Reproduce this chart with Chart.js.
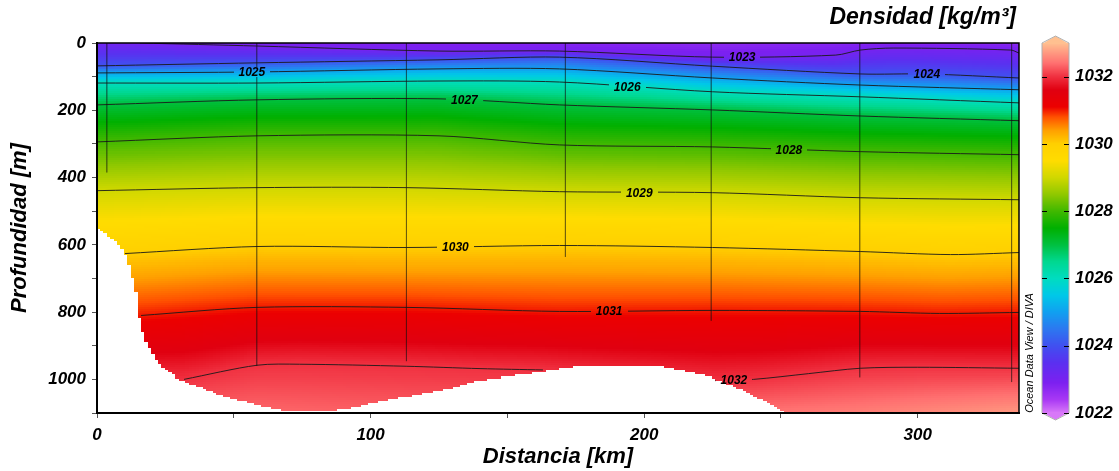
<!DOCTYPE html>
<html>
<head>
<meta charset="utf-8">
<script src="https://cdn.jsdelivr.net/npm/chart.js@4.4.1/dist/chart.umd.min.js"></script>
<style>
  html, body { margin: 0; padding: 0; background: #fff; }
</style>
</head>
<body>
<canvas id="section" width="1119" height="471"></canvas>
<script>
// Estaciones: distancia [km] y profundidad máxima del perfil [m]
const stationKm = [3.6, 58.4, 113.1, 171.2, 224.5, 278.8, 334.3]
const stationDepth = [385, 960, 946, 636, 826, 994, 1008]

// Topografía del fondo
const bottomKm = [0, 4.7, 9.1, 11.3, 13.1, 15.0, 15.7, 17.5, 20.1, 23.7, 30.3, 40.1, 47.4, 55.8, 65.7, 74, 84.3, 93.4, 100.7, 116.8, 129.9, 137.2, 169, 175.2, 205.5, 211.7, 223.7, 235.8, 246.7, 254, 337]
const bottomDepth = [548, 575, 605, 643, 694, 762, 821, 880, 919, 961, 999, 1029, 1050, 1067, 1088, 1094, 1094, 1082, 1067, 1044, 1023, 1005, 969, 961, 961, 969, 990, 1029, 1073, 1110, 1110]

// Densidad en superficie y a 1100 m
const profileKm = [0, 58, 113, 171, 225, 279, 337]
const surfaceDens = [1023.1, 1022.9, 1022.85, 1022.8, 1022.7, 1022.8, 1022.75]
const deepDens = [1032.3, 1032.35, 1032.3, 1032.3, 1032.4, 1032.5, 1032.7]

// Isopicnas: [km, profundidad m]
const iso1023 = [[15.7, 0], [58.5, 9], [125, 24], [169, 24], [225, 42], [270, 36], [279, 21], [291, 15], [334, 21], [337, 30]]
const iso1024 = [[0, 68], [58.5, 59], [125, 50], [169, 42], [225, 69], [279, 92], [303, 92], [337, 104]]
const iso1025 = [[0, 89], [58.5, 86], [125, 77], [169, 77], [225, 104], [279, 125], [337, 139]]
const iso1026 = [[0, 119], [58.5, 119], [125, 113], [169, 116], [225, 145], [279, 160], [337, 178]]
const iso1027 = [[0, 184], [58.5, 169], [125, 166], [169, 184], [225, 199], [279, 217], [337, 231]]
const iso1028 = [[0, 294], [58.5, 276], [125, 276], [169, 303], [225, 309], [279, 323], [337, 332]]
const iso1029 = [[0, 439], [58.5, 430], [113, 430], [169, 442], [225, 445], [279, 460], [337, 466]]
const iso1030 = [[10.2, 626], [58.5, 605], [113, 608], [169, 602], [225, 608], [279, 620], [312, 629], [337, 623]]
const iso1031 = [[16.1, 810], [58.5, 786], [113, 786], [169, 798], [225, 795], [279, 798], [308, 804], [337, 801]]
const iso1032 = [[31.8, 1000], [58.5, 958], [74, 955], [113, 961], [140, 968], [163, 972], [190, null], [226, 1004], [240, 1000], [260, 983], [279, 967], [300, 964], [337, 967]]

const levels = [1023, 1024, 1025, 1026, 1027, 1028, 1029, 1030, 1031, 1032]
const isolines = [iso1023, iso1024, iso1025, iso1026, iso1027, iso1028, iso1029, iso1030, iso1031, iso1032]
const labelKm = [235.8, 303.3, 56.6, 193.8, 134.3, 252.9, 198.2, 131, 187.2, 232.8]

// Escala de colores (ODV)
const cmapStops = [1022, 1022.4, 1022.9, 1023.5, 1024, 1024.5, 1025, 1025.5, 1026, 1026.5, 1027, 1027.5, 1028, 1028.5, 1029, 1029.5, 1030, 1030.4, 1030.8, 1031.1, 1031.6, 1032, 1032.4, 1033]
const cmapColors = ['#d878f8', '#a838f4', '#7c20f0', '#5a30f0', '#4050f0', '#2c78f0', '#10a0f0', '#00c8e8', '#00dcc0', '#00d890', '#00c040', '#00b000', '#40b800', '#90c800', '#d0d800', '#ffdc00', '#ffd000', '#ffa000', '#ff5000', '#ec0000', '#e00010', '#f03040', '#ff7070', '#ffc090']

const FAMILY = "'Liberation Sans', Arial, sans-serif"
const tickFont = { family: FAMILY, size: 17, weight: 'bold', style: 'italic' }
const titleFont = { family: FAMILY, size: 22, weight: 'bold', style: 'italic' }

const rgb = cmapColors.map(h => [1, 3, 5].map(i => parseInt(h.slice(i, i + 2), 16)))

function cmap(v) {
  if (v <= cmapStops[0]) return `rgb(${rgb[0]})`
  for (let i = 1; i < cmapStops.length; i++) {
    if (v <= cmapStops[i]) {
      const t = (v - cmapStops[i - 1]) / (cmapStops[i] - cmapStops[i - 1])
      const c = rgb[i - 1].map((a, k) => Math.round(a + (rgb[i][k] - a) * t))
      return `rgb(${c})`
    }
  }
  return `rgb(${rgb[rgb.length - 1]})`
}

function interp(xs, ys, x) {
  if (x <= xs[0]) return ys[0]
  for (let i = 1; i < xs.length; i++) {
    if (x <= xs[i]) return ys[i - 1] + (ys[i] - ys[i - 1]) * (x - xs[i - 1]) / (xs[i] - xs[i - 1])
  }
  return ys[ys.length - 1]
}

const isoKm = isolines.map(l => l.filter(p => p[1] !== null).map(p => p[0]))
const isoDepth = isolines.map(l => l.filter(p => p[1] !== null).map(p => p[1]))

function densityAt(km, z) {
  const knots = [[0, interp(profileKm, surfaceDens, km)]]
  levels.forEach((lev, i) => {
    const d = interp(isoKm[i], isoDepth[i], km)
    const last = knots[knots.length - 1]
    if (d > last[0] && lev > last[1]) knots.push([d, lev])
  })
  const last = knots[knots.length - 1]
  knots.push([Math.max(1100, last[0] + 1), interp(profileKm, deepDens, km)])
  for (let i = 1; i < knots.length; i++) {
    if (z <= knots[i][0]) {
      const t = (z - knots[i - 1][0]) / (knots[i][0] - knots[i - 1][0])
      return knots[i - 1][1] + (knots[i][1] - knots[i - 1][1]) * t
    }
  }
  return last[1]
}

const xMax = 337, zMax = 1100
const cellKm = 1.25, cellM = 6

const sectionPlugin = {
  id: 'section',
  beforeDatasetsDraw(chart) {
    const { ctx, chartArea: a, scales: { x, y } } = chart
    const off = document.createElement('canvas')
    off.width = chart.width
    off.height = chart.height
    const o = off.getContext('2d')
    o.fillStyle = '#fff'
    o.fillRect(a.left, a.top, a.width, a.height)
    for (let k0 = 0; k0 < xMax; k0 += cellKm) {
      const k1 = Math.min(k0 + cellKm, xMax), kc = (k0 + k1) / 2
      const bot = interp(bottomKm, bottomDepth, kc)
      const px0 = Math.floor(x.getPixelForValue(k0)), px1 = Math.ceil(x.getPixelForValue(k1))
      for (let z0 = 0; z0 < zMax; z0 += cellM) {
        const z1 = Math.min(z0 + cellM, zMax), zc = (z0 + z1) / 2
        if (zc > bot) break
        const py0 = Math.floor(y.getPixelForValue(z0)), py1 = Math.ceil(y.getPixelForValue(z1))
        o.fillStyle = cmap(densityAt(kc, zc))
        o.fillRect(px0, py0, px1 - px0, py1 - py0)
      }
    }
    chart.$heat = off
    ctx.save()
    ctx.beginPath()
    ctx.rect(a.left, a.top, a.width, a.height)
    ctx.clip()
    ctx.drawImage(off, 0, 0)
    ctx.restore()
  },
  afterDatasetsDraw(chart) {
    const { ctx, chartArea: a, scales: { x, y } } = chart
    ctx.save()
    ctx.font = `italic bold 12px ${FAMILY}`
    ctx.textAlign = 'center'
    ctx.textBaseline = 'middle'
    levels.forEach((lev, i) => {
      const km = labelKm[i]
      const px = x.getPixelForValue(km)
      const py = y.getPixelForValue(interp(isoKm[i], isoDepth[i], km))
      const w = ctx.measureText(String(lev)).width + 10, h = 10
      ctx.drawImage(chart.$heat, px - w / 2, py - h / 2, w, h, px - w / 2, py - h / 2, w, h)
      ctx.fillStyle = '#000'
      ctx.fillText(String(lev), px, py + 1)
    })
    ctx.strokeStyle = '#000'
    ctx.lineWidth = 1.5
    ctx.strokeRect(a.left, a.top, a.width, a.height)
    ctx.beginPath()
    ctx.lineWidth = 2
    ctx.moveTo(a.left, a.top)
    ctx.lineTo(a.left, a.bottom)
    ctx.lineTo(a.right, a.bottom)
    ctx.stroke()
    ctx.restore()
  },
  afterDraw(chart) {
    const { ctx, chartArea: a, scales: { y2 } } = chart
    const left = a.right + 23, w = 27
    const top = y2.getPixelForValue(1033), bottom = y2.getPixelForValue(1022)
    ctx.save()
    for (let py = Math.floor(top); py < bottom; py++) {
      ctx.fillStyle = cmap(y2.getValueForPixel(py + 0.5))
      ctx.fillRect(left, py, w, 1)
    }
    // puntas de la barra
    ctx.fillStyle = cmap(1033)
    ctx.beginPath()
    ctx.moveTo(left, top + 1); ctx.lineTo(left + w / 2, top - 7); ctx.lineTo(left + w, top + 1); ctx.closePath()
    ctx.fill()
    ctx.fillStyle = cmap(1022)
    ctx.beginPath()
    ctx.moveTo(left, bottom - 1); ctx.lineTo(left + w / 2, bottom + 7); ctx.lineTo(left + w, bottom - 1); ctx.closePath()
    ctx.fill()
    ctx.strokeStyle = '#b0b0b0'
    ctx.lineWidth = 1
    ctx.beginPath()
    ctx.moveTo(left, top); ctx.lineTo(left + w / 2, top - 7); ctx.lineTo(left + w, top)
    ctx.lineTo(left + w, bottom); ctx.lineTo(left + w / 2, bottom + 7); ctx.lineTo(left, bottom)
    ctx.closePath()
    ctx.stroke()
    ctx.strokeStyle = '#000'
    y2.ticks.forEach(t => {
      const py = Math.round(y2.getPixelForValue(t.value)) + 0.5
      ctx.beginPath()
      ctx.moveTo(left, py); ctx.lineTo(left + 5, py)
      ctx.moveTo(left + w - 5, py); ctx.lineTo(left + w, py)
      ctx.stroke()
    })
    // título
    ctx.fillStyle = '#000'
    ctx.font = `italic bold 23px ${FAMILY}`
    ctx.textAlign = 'right'
    ctx.textBaseline = 'middle'
    ctx.fillText('Densidad [kg/m³]', a.right - 3, 18)
    // crédito
    ctx.font = `italic 11px ${FAMILY}`
    ctx.translate(a.right + 11, bottom - 60)
    ctx.rotate(-Math.PI / 2)
    ctx.textAlign = 'center'
    ctx.fillText('Ocean Data View / DIVA', 0, 0)
    ctx.restore()
  }
}

const contourSets = isolines.map(l => ({
  data: l.map(p => ({ x: p[0], y: p[1] })),
  showLine: true,
  borderColor: '#1a1a1a',
  borderWidth: 0.9,
  pointRadius: 0,
  tension: 0.3,
  spanGaps: false
}))

const stationSets = stationKm.map((km, i) => ({
  data: [{ x: km, y: 0 }, { x: km, y: stationDepth[i] }],
  showLine: true,
  borderColor: 'rgba(20,20,20,0.5)',
  borderWidth: 0.6,
  pointRadius: 0
}))

new Chart(document.getElementById('section'), {
  type: 'scatter',
  data: { datasets: [...stationSets, ...contourSets] },
  plugins: [sectionPlugin],
  options: {
    responsive: false,
    devicePixelRatio: 1,
    animation: false,
    events: [],
    layout: { padding: { top: 43, left: 0, right: 0, bottom: 0 } },
    plugins: { legend: { display: false }, tooltip: { enabled: false } },
    scales: {
      x: {
        type: 'linear', min: 0, max: xMax,
        afterBuildTicks: ax => { ax.ticks = ax.ticks.filter(t => t.value % 50 === 0) },
        afterFit: ax => { ax.height = 58 },
        ticks: { stepSize: 50, autoSkip: false, maxRotation: 0, padding: 7, color: '#000', font: tickFont,
          callback: v => (v % 100 === 0 ? String(v) : '') },
        grid: { display: true, drawOnChartArea: false, tickLength: 5, color: '#555' },
        border: { display: true, color: '#000', width: 2 },
        title: { display: true, text: 'Distancia [km]', color: '#000', font: titleFont, padding: { top: 0, bottom: 1 } }
      },
      y: {
        type: 'linear', reverse: true, min: 0, max: zMax, position: 'left',
        afterFit: ax => { ax.width = 97 },
        ticks: { stepSize: 100, autoSkip: false, padding: 6, color: '#000', font: tickFont,
          callback: v => (v % 200 === 0 ? String(v) : '') },
        grid: { display: true, drawOnChartArea: false, tickLength: 5, color: '#555' },
        border: { display: true, color: '#000', width: 2 },
        title: { display: true, text: 'Profundidad [m]', color: '#000', font: titleFont, padding: { top: 7, bottom: 0 } }
      },
      y2: {
        type: 'linear', position: 'right', min: 1022, max: 1033,
        afterFit: ax => { ax.width = 100 },
        afterBuildTicks: ax => { ax.ticks = ax.ticks.filter(t => t.value % 2 === 0 && t.value <= 1032) },
        ticks: { stepSize: 2, autoSkip: false, padding: 0, color: '#000', font: tickFont, callback: v => String(v) },
        grid: { display: true, drawOnChartArea: false, tickLength: 56, color: 'rgba(0,0,0,0)' },
        border: { display: false }
      }
    }
  }
})
</script>
</body>
</html>
